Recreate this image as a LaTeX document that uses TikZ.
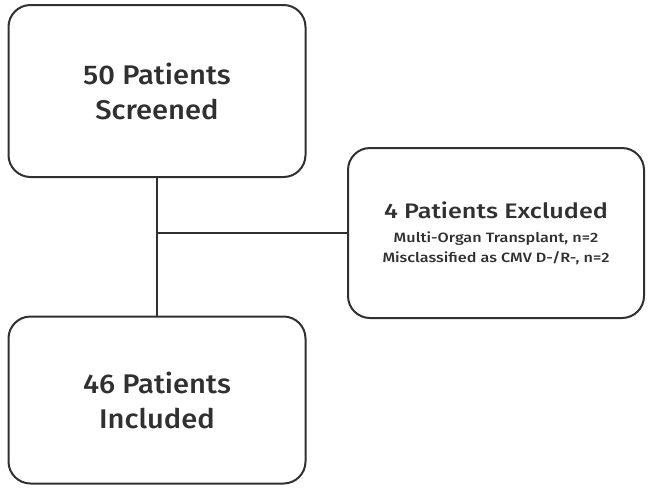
\documentclass[tikz,border=0pt]{standalone}
\usepackage{fontspec}
\setmainfont{Fira Sans}[UprightFont={* Medium}]
\newfontfamily\widefont{Fira Sans}[UprightFont={* Medium}, FakeStretch=1.2]
\newfontfamily\mainfont{Fira Sans}[UprightFont={* Medium}, FakeStretch=1.08]
\usetikzlibrary{positioning}
\definecolor{ink}{HTML}{303030}
\tikzstyle{stage}=[draw=ink, line width=2pt, rounded corners=22pt, align=center, text=ink, font=\mainfont\fontsize{27}{35}\selectfont]
\tikzstyle{link}=[draw=ink, line width=2pt]

\begin{document}
\begin{tikzpicture}[x=1pt, y=-1pt]
    \useasboundingbox (0,0) rectangle (650,491);
    \node[stage, minimum width=297pt, minimum height=172pt] (screened) at (157,91) {50 Patients\\Screened};
    \node[stage, minimum width=297pt, minimum height=167pt] (included) at (157,400) {46 Patients\\Included};
    \node[stage, minimum width=296pt, minimum height=170pt, font=\widefont\fontsize{13.5}{20}\selectfont] (excluded) at (496,233)
        {{\fontsize{21}{20}\selectfont 4 Patients Excluded}\\[4pt]
         Multi-Organ Transplant, n=2\\
         Misclassified as CMV D-/R-, n=2};
    \coordinate (split) at (screened.south |- excluded.west);
    \draw[link] (screened.south) -- (included.north);
    \draw[link] (split) -- (excluded.west);
\end{tikzpicture}
\end{document}
